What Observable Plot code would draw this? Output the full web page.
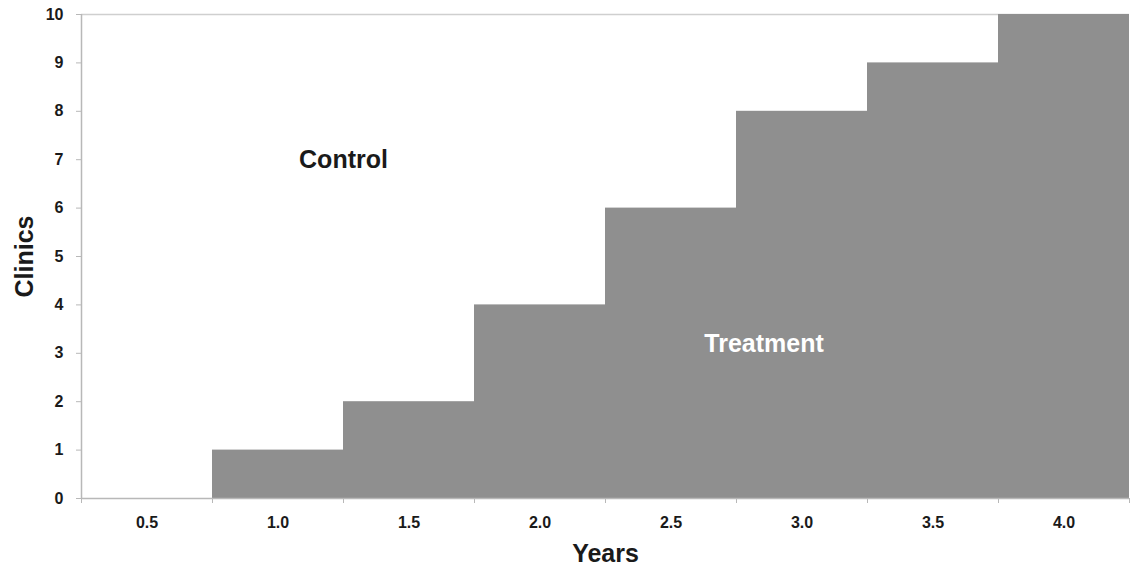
<!DOCTYPE html>
<html>
<head>
<meta charset="utf-8">
<script src="https://cdn.jsdelivr.net/npm/d3@7"></script>
<script src="https://cdn.jsdelivr.net/npm/@observablehq/plot@0.6"></script>
<style>
  html, body { margin: 0; padding: 0; background: #fff; }
  svg { display: block; }
</style>
</head>
<body>
<div id="chart"></div>
<script>
const years = [0.5, 1.0, 1.5, 2.0, 2.5, 3.0, 3.5, 4.0];
const clinics = [0, 1, 2, 4, 6, 8, 9, 10];
const yTicks = [0, 1, 2, 3, 4, 5, 6, 7, 8, 9, 10];
const regionLabels = ["Control", "Treatment"];
const regionX = [1.25, 2.855];
const regionY = [7, 3.2];

const half = 0.25;
const data = years.map((y, i) => ({year: y, clinics: clinics[i]}));
const edges = years.map(y => y - half).concat([years[years.length - 1] + half]);
const labels = regionLabels.map((t, i) => ({text: t, x: regionX[i], y: regionY[i]}));

const axisColor = "#b8b8b8";
const font = "'Liberation Sans', Arial, sans-serif";

const chart = Plot.plot({
  width: 1130,
  height: 573,
  marginLeft: 81,
  marginRight: 1,
  marginTop: 14,
  marginBottom: 75,
  style: {fontFamily: font, color: "#1a1a1a", background: "#fff"},
  x: {domain: [edges[0], edges[edges.length - 1]]},
  y: {domain: [0, 10]},
  marks: [
    Plot.ruleY([10], {stroke: "#cfcfcf", strokeWidth: 1.5}),
    Plot.rectY(data, {x1: d => d.year - half, x2: d => d.year + half, y: "clinics", fill: "#8f8f8f"}),
    Plot.ruleX([edges[0]], {stroke: axisColor, strokeWidth: 1.5}),
    Plot.ruleY([0], {stroke: axisColor, strokeWidth: 1.5}),
    Plot.axisY({ticks: yTicks, tickSize: 5, tickPadding: 13, stroke: axisColor, fontSize: 16, fontWeight: "bold", tickFormat: d3.format("d"), label: null}),
    Plot.axisY({ticks: [], label: "Clinics", labelAnchor: "center", labelArrow: "none", labelOffset: 66, fontSize: 25, fontWeight: "bold", letterSpacing: 0.9}),
    Plot.axisX({ticks: edges, tickSize: 5, stroke: axisColor, tickFormat: () => "", label: null}),
    Plot.axisX({ticks: years, tickSize: 0, tickPadding: 18, fontSize: 16, fontWeight: "bold", letterSpacing: 0.3, tickFormat: d3.format(".1f"), label: null}),
    Plot.axisX({ticks: [], label: "Years", labelAnchor: "center", labelArrow: "none", labelOffset: 63, fontSize: 25, fontWeight: "bold", letterSpacing: 1}),
    Plot.text(labels, {x: "x", y: "y", text: "text", fontSize: 25, fontWeight: "bold", letterSpacing: 1.4, fill: (d, i) => i === 0 ? "#1a1a1a" : "#ffffff"})
  ]
});
document.getElementById("chart").appendChild(chart);
</script>
</body>
</html>
